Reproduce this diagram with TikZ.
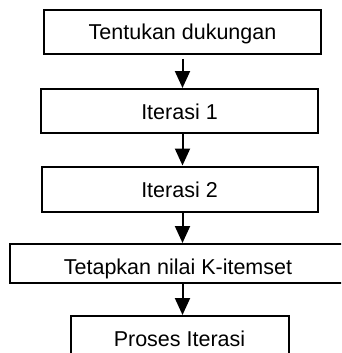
\documentclass[tikz,border=0pt]{standalone}
\usepackage{fontspec}
\setmainfont{Liberation Sans}
\usetikzlibrary{arrows.meta}
\begin{document}
\begin{tikzpicture}[x=1pt,y=-1pt,
  box/.style={draw=black,line width=2pt,inner sep=0pt,
    font=\fontsize{21.5pt}{25pt}\selectfont,text height=16pt,text depth=0pt},
  arr/.style={line width=2pt,-{Triangle[length=17pt,width=15pt]}}]
\useasboundingbox (0,0) rectangle (341,353);
\clip (0,0) rectangle (341,353);
\node[box,minimum width=277pt,minimum height=44pt] (b1) at (182.5,32) {Tentukan dukungan};
\node[box,minimum width=277pt,minimum height=44pt] (b2) at (179.5,111) {Iterasi 1};
\node[box,minimum width=276pt,minimum height=45pt] (b3) at (179.5,189) {Iterasi 2};
\node[box,minimum width=336pt,minimum height=39pt,text height=21pt] (b4) at (178,263.5) {Tetapkan nilai K-itemset};
\node[box,minimum width=218pt,minimum height=64pt,text height=15pt,text depth=18pt] (b5) at (179.5,348) {Proses Iterasi};
\draw[arr,shorten <=4pt] (b1.south) -- (b2.north -| b1.south);
\draw[arr] (b2.south -| b1.south) -- (b3.north -| b1.south);
\draw[arr] (b3.south -| b1.south) -- (b4.north -| b1.south);
\draw[arr] (b4.south -| b1.south) -- (b5.north -| b1.south);
\end{tikzpicture}
\end{document}
